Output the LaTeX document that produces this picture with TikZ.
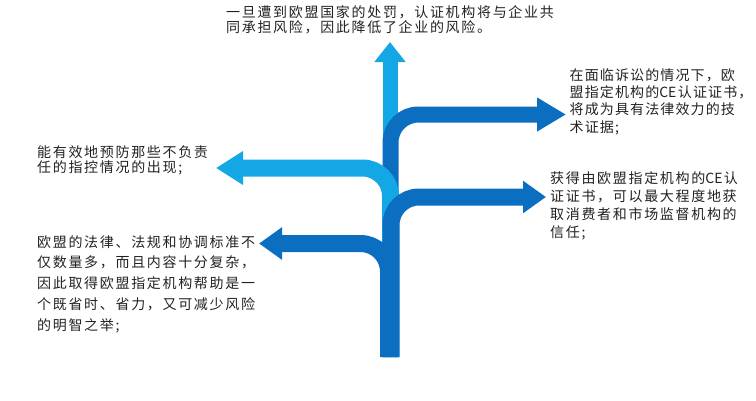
\documentclass[tikz,border=0pt]{standalone}
\usepackage{fontspec}
\setmainfont{Noto Sans CJK SC}[LetterSpace=12]
\newfontfamily\latinpart{Noto Sans CJK SC}
\usetikzlibrary{arrows.meta}
\definecolor{lightb}{RGB}{20,167,229}
\definecolor{darkb}{RGB}{11,110,193}
\definecolor{txt}{RGB}{34,34,34}
\newcommand{\CEmark}{{\latinpart CE}\hspace{1.5pt}}
\begin{document}
\begin{tikzpicture}[x=1pt,y=-1pt,
  txtblock/.style={anchor=base west, inner sep=0pt, align=left, text=txt, font=\fontsize{14}{#1}\selectfont},
  tighter/.style={font=\fontsize{14}{#1}\selectfont\addfontfeature{LetterSpace=8}},
  branch/.style={line width=17pt, rounded corners=28pt, line cap=butt},
]
\useasboundingbox (0,0) rectangle (756,400);
% roots and tips
\coordinate (rootUp) at (390,357);
\coordinate (rootR1) at (390.5,357);
\coordinate (rootL1) at (390.5,357);
\coordinate (rootR2) at (391,357);
\coordinate (rootL2) at (388.5,357);
\coordinate (tipUp) at (390,42);
\coordinate (tipR1) at (566,114.5);
\coordinate (tipL1) at (216,168);
\coordinate (tipR2) at (546,197);
\coordinate (tipL2) at (259,243.5);
% branches
\draw[branch, lightb, line width=15pt, -{Triangle[length=20pt,width=30pt]}] (rootUp) -- (tipUp);
\draw[branch, darkb, line width=16pt, -{Triangle[length=29pt,width=32pt]}] (rootR1) |- (tipR1);
\draw[branch, lightb, -{Triangle[length=27pt,width=32pt]}] (rootL1) |- (tipL1);
\draw[branch, darkb, -{Triangle[length=23pt,width=31pt]}] (rootR2) |- (tipR2);
\draw[branch, darkb, -{Triangle[length=23pt,width=31pt]}] (rootL2) |- (tipL2);
% texts (anchor = baseline of the last line)
\node[txtblock=15] (tTop) at (226,32.8) {一旦遭到欧盟国家的处罚，认证机构将与企业共\\同承担风险，因此降低了企业的风险。};
\node[txtblock=17.3, tighter=17.3] (tR1) at (569.5,132.2) {在面临诉讼的情况下，欧\\盟指定机构的\CEmark 认证证书，\\将成为具有法律效力的技\\术证据;};
\node[txtblock=18] (tR2) at (550,237.3) {获得由欧盟指定机构的\CEmark 认\\证证书，可以最大程度地获\\取消费者和市场监督机构的\\信任;};
\node[txtblock=15] (tL1) at (37,172) {能有效地预防那些不负责\\任的指控情况的出现;};
\node[txtblock=20.8] (tL2) at (37,330.2) {欧盟的法律、法规和协调标准不\\仅数量多，而且内容十分复杂，\\因此取得欧盟指定机构帮助是一\\个既省时、省力，又可减少风险\\的明智之举;};
\end{tikzpicture}
\end{document}
